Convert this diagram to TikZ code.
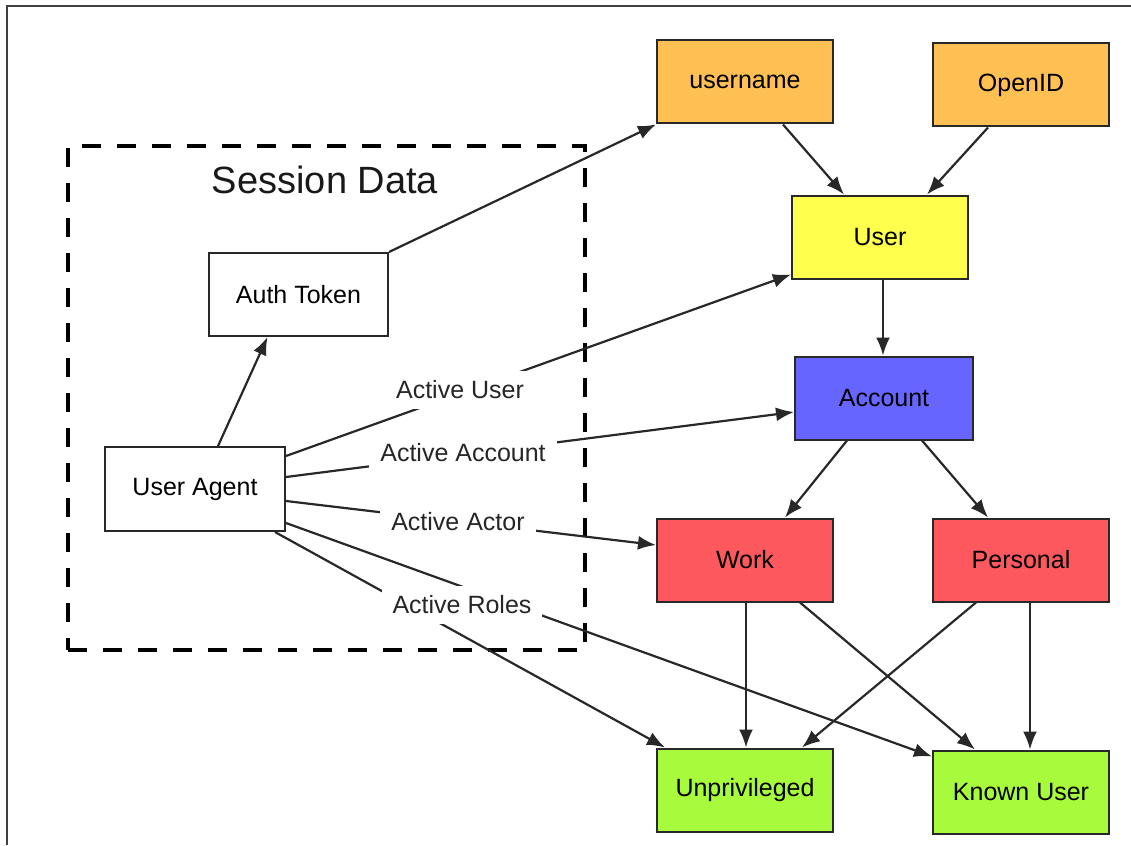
\documentclass[tikz,border=0pt]{standalone}
\usepackage{fontspec}
\setmainfont{Liberation Sans}
\usetikzlibrary{arrows.meta}
\definecolor{cOrange}{RGB}{254,192,82}
\definecolor{cYellow}{RGB}{255,255,77}
\definecolor{cBlue}{RGB}{102,102,255}
\definecolor{cRed}{RGB}{254,88,95}
\definecolor{cGreen}{RGB}{168,250,60}
\definecolor{cLine}{RGB}{40,40,40}
\tikzset{
  box/.style={draw=cLine, line width=2pt, inner sep=0pt, minimum width=176pt, minimum height=83pt,
    font=\fontsize{25}{30}\selectfont, text=black},
  plainbox/.style={box, fill=white, minimum width=180pt, minimum height=84pt},
  lbl/.style={fill=white, inner xsep=11pt, inner ysep=10pt, font=\fontsize{25}{30}\selectfont, text=black!85},
  arr/.style={draw=cLine, line width=2.2pt, -{Latex[length=18pt,width=14pt]}},
}
\begin{document}
\begin{tikzpicture}[x=1pt,y=1pt]
\useasboundingbox (0,0) rectangle (1131,-845);
\fill[white] (0,0) rectangle (1131,-845);
\draw[line width=1.5pt, black!75] (7,-845) -- (7,-6) -- (1131,-6);

% session box
\node[draw=black, line width=4pt, dash pattern=on 19pt off 16pt, minimum width=517pt, minimum height=504pt, inner sep=0pt] (sess) at (326.5,-398) {};
\node[font=\fontsize{38}{45}\selectfont, text=black!90] (title) at (325,-180) {Session Data};

% nodes
\node[box, fill=cOrange] (username) at (745,-82) {username};
\node[box, fill=cOrange] (openid) at (1021,-85) {OpenID};
\node[box, fill=cYellow] (user) at (880,-237) {User};
\node[box, fill=cBlue, minimum width=178pt] (account) at (884,-398) {Account};
\node[box, fill=cRed] (work) at (745,-560) {Work};
\node[box, fill=cRed] (personal) at (1021,-560) {Personal};
\node[box, fill=cGreen] (unpriv) at (745,-790) {Unprivileged};
\node[box, fill=cGreen] (known) at (1021,-792) {Known User};
\node[plainbox, minimum width=179pt, minimum height=83pt] (auth) at (298.5,-294.5) {Auth Token};
\node[plainbox] (ua) at (195,-489) {User Agent};

% connectors
\draw[arr] (auth.north east) -- (username.south west);
\draw[arr] ([xshift=23pt]ua.north) -- ([xshift=-31pt]auth.south);
\draw[arr] ([yshift=33pt]ua.east) -- ([yshift=5pt]user.south west);
\draw[arr] ([yshift=12pt]ua.east) -- ([yshift=-14pt]account.west);
\draw[arr] ([yshift=-12pt]ua.east) -- ([yshift=15pt]work.west);
\draw[arr] ([yshift=-34pt]ua.east) -- ([yshift=-7pt]known.north west);
\draw[arr] ([xshift=-11pt]ua.south east) -- ([xshift=9pt]unpriv.north west);
\draw[arr] ([xshift=38pt]username.south) -- ([xshift=-36pt]user.north);
\draw[arr] ([xshift=-33pt]openid.south) -- ([xshift=47pt]user.north);
\draw[arr] ([xshift=3pt]user.south) -- ([xshift=-1pt]account.north);
\draw[arr] ([xshift=-37pt]account.south) -- ([xshift=40pt]work.north);
\draw[arr] ([xshift=38pt]account.south) -- ([xshift=-33pt]personal.north);
\draw[arr] ([xshift=1pt]work.south) -- ([xshift=1pt]unpriv.north);
\draw[arr] ([xshift=55pt]work.south) -- ([xshift=-46pt]known.north);
\draw[arr] ([xshift=-45pt]personal.south) -- ([xshift=57pt]unpriv.north);
\draw[arr] ([xshift=9pt]personal.south) -- ([xshift=9pt]known.north);

% labels on lines
\node[lbl] (aUser) at (460,-390) {Active User};
\node[lbl] (aAccount) at (463,-453) {Active Account};
\node[lbl] (aActor) at (458,-522) {Active Actor};
\node[lbl] (aRoles) at (462,-605) {Active Roles};
\end{tikzpicture}
\end{document}
